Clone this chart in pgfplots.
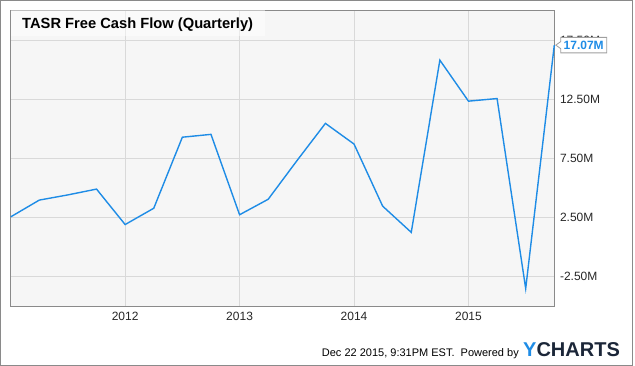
\documentclass[border=0pt]{standalone}
\usepackage{pgfplots}
\pgfplotsset{compat=1.18}
\usepackage{fontspec}
\setmainfont{Liberation Sans}
\usetikzlibrary{shapes.callouts,calc}
\definecolor{ylblue}{RGB}{30,140,230}
\definecolor{ygrid}{RGB}{217,217,217}
\definecolor{ybg}{RGB}{246,246,246}
\definecolor{yframe}{RGB}{138,138,138}
\definecolor{ynavy}{RGB}{27,38,56}
\begin{document}
\begin{tikzpicture}
\path[use as bounding box] (0pt,0pt) rectangle (635pt,366pt);
\draw[yframe, line width=1pt] (0.5pt,0.5pt) rectangle (632.5pt,365.5pt);
\begin{axis}[
  at={(10.7pt,60pt)}, anchor=south west,
  width=543.6pt, height=295.5pt, scale only axis,
  xmin=2011, xmax=2015.75, ymin=-5, ymax=20,
  axis background/.style={fill=ybg},
  axis line style={yframe, line width=0.9pt},
  xtick={2012,2013,2014,2015},
  xticklabels={2012,2013,2014,2015},
  ytick={-2.5,2.5,7.5,12.5,17.5},
  yticklabels={-2.50M,2.50M,7.50M,12.50M,17.50M},
  yticklabel pos=right,
  major tick length=0pt,
  grid=major,
  major grid style={ygrid, line width=0.8pt},
  tick label style={font=\fontsize{12}{12}\selectfont, text=black!85},
  yticklabel style={anchor=west, inner sep=0pt, xshift=5.5pt},
  xticklabel style={anchor=north, inner sep=0pt, yshift=-6pt},
  /pgf/number format/assume math mode=true,
  clip=false,
]
\fill[white, opacity=0.45] (axis cs:2011,20) rectangle ([xshift=254pt, yshift=-25.5pt]axis cs:2011,20);
\addplot[ylblue, line width=1.4pt, mark=none] table {
x y
2011.00 2.54
2011.25 3.96
2011.50 4.40
2011.75 4.89
2012.00 1.89
2012.25 3.27
2012.50 9.28
2012.75 9.52
2013.00 2.72
2013.25 4.03
2013.50 7.28
2013.75 10.45
2014.00 8.70
2014.25 3.45
2014.50 1.23
2014.75 15.80
2015.00 12.33
2015.25 12.55
2015.50 -3.52
2015.75 17.07
};
\coordinate (P) at (axis cs:2015.75,17.07);
\end{axis}
\node[anchor=base west, inner sep=0pt, font=\fontsize{14.7}{15}\selectfont\bfseries] at (22pt,337pt) {TASR Free Cash Flow (Quarterly)};
\node[rectangle callout, draw=gray!75, fill=white, line width=0.8pt, text=ylblue,
  font=\fontsize{12}{12}\selectfont\bfseries, inner xsep=3pt, inner ysep=3.5pt,
  anchor=west, callout absolute pointer={($(P)+(1.5pt,0pt)$)}, callout pointer width=7pt]
  at ($(P)+(6pt,0pt)$) {17.07M};
\node[anchor=base east, inner sep=0pt, font=\fontsize{11}{11}\selectfont] at (519pt,9pt) {Dec 22 2015, 9:31PM EST.\ \ Powered by};
\node[anchor=base west, inner sep=0pt, font=\fontsize{20}{20}\selectfont\bfseries] at (523pt,9pt) {\textcolor{ylblue}{Y}\textcolor{ynavy}{CHARTS}};
\end{tikzpicture}
\end{document}
